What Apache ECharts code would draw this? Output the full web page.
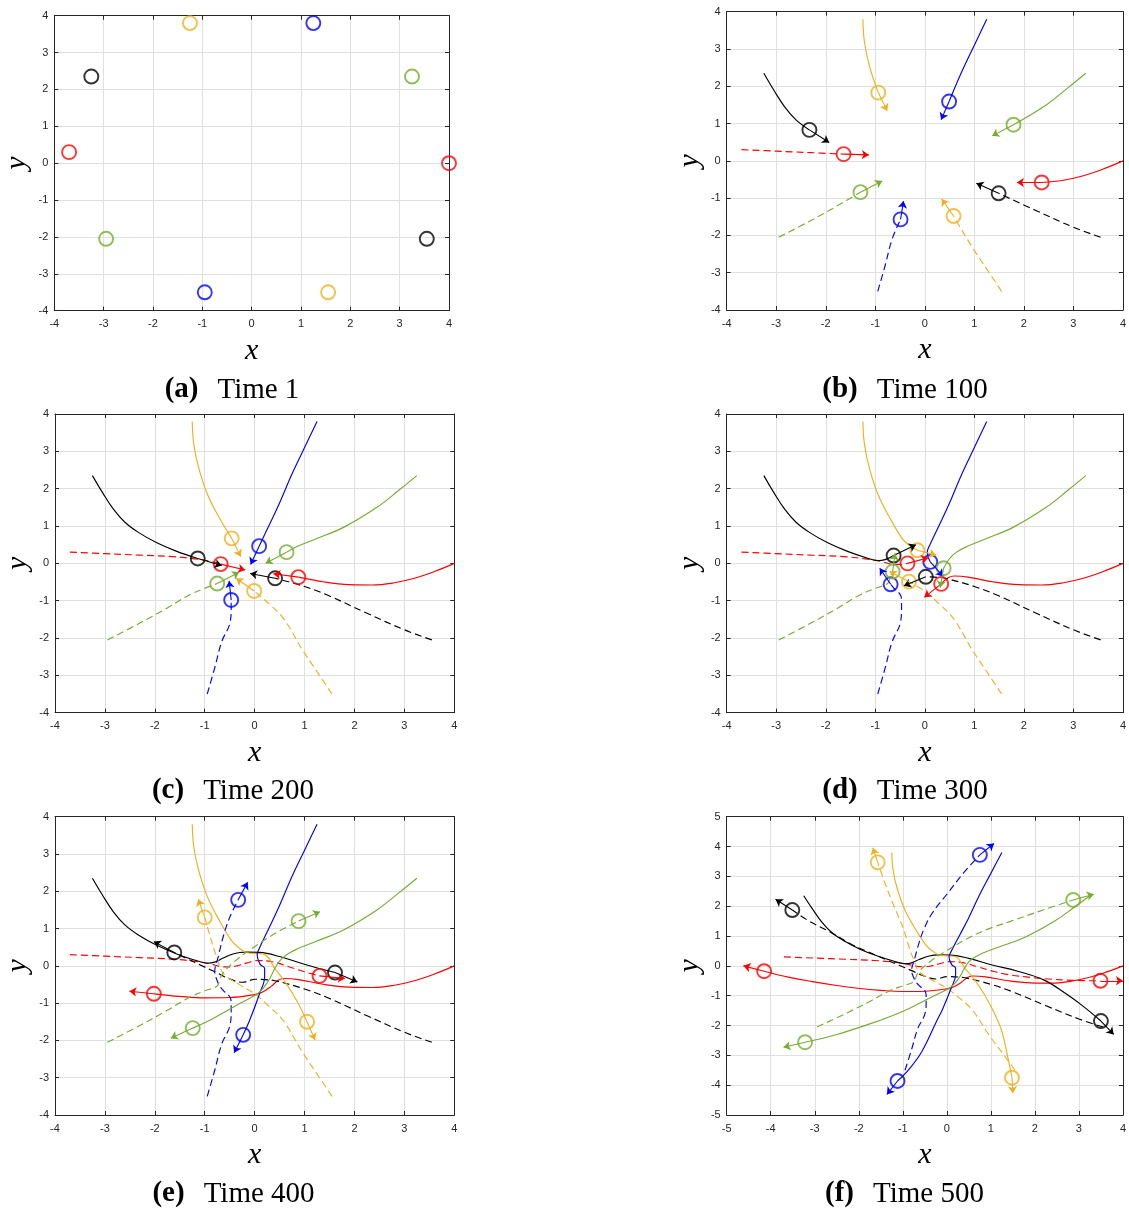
<!DOCTYPE html>
<html><head><meta charset="utf-8">
<script src="https://cdn.jsdelivr.net/npm/echarts@6/dist/echarts.min.js"></script>
<style>html,body{margin:0;padding:0;background:#fff}#c{width:1129px;height:1209px}</style>
</head><body><div id="c"></div><script>
// ---------- data ----------
const panelLetters = ['a','b','c','d','e','f'];
const panelTimes = [1,100,200,300,400,500];
const xMin = [-4,-4,-4,-4,-4,-5];
const xMax = [4,4,4,4,4,4];
const yMin = [-4,-4,-4,-4,-4,-5];
const yMax = [4,4,4,4,4,5];

const pathRedSolid = [[4.0,0.0],[3.6,-0.22],[3.2,-0.4],[2.8,-0.52],[2.36,-0.58],[1.9,-0.57],[1.4,-0.5],[0.875,-0.37],[0.6,-0.34],[0.48,-0.38],[0.33,-0.55],[0.15,-0.71],[0.0,-0.77],[-0.5,-0.85],[-1.0,-0.86],[-1.5,-0.82],[-2.02,-0.75],[-2.5,-0.66],[-3.05,-0.53],[-3.6,-0.38],[-4.15,-0.18]];
const idxRedSolid = [0,4,7,10,16,20];
const velRedSolid = [[-0.5,0.0],[-0.5,0.09],[-0.34,-0.36],[-0.49,0.07],[-0.47,0.18]];

const pathRedDashed = [[-3.7,0.3],[-3.0,0.26],[-2.3,0.22],[-1.64,0.18],[-1.2,0.12],[-0.9,0.06],[-0.68,-0.02],[-0.5,-0.03],[-0.35,0.0],[-0.15,0.08],[0.05,0.14],[0.35,0.11],[0.7,-0.03],[1.0,-0.16],[1.3,-0.27],[1.8,-0.37],[2.3,-0.44],[2.9,-0.49],[3.49,-0.5]];
const idxRedDashed = [0,3,6,8,14,18];
const velRedDashed = [[0.51,-0.02],[0.49,-0.16],[0.42,0.15],[0.51,-0.07],[0.51,0.0]];

const pathBlackSolid = [[-3.25,2.35],[-3.05,1.9],[-2.83,1.45],[-2.6,1.1],[-2.33,0.83],[-1.96,0.55],[-1.56,0.32],[-1.14,0.13],[-0.95,0.07],[-0.8,0.1],[-0.63,0.21],[-0.4,0.33],[-0.2,0.37],[0.1,0.36],[0.5,0.25],[1.03,0.03],[1.61,-0.18],[2.2,-0.47],[2.7,-0.93],[3.1,-1.36],[3.5,-1.85]];
const idxBlackSolid = [0,4,7,10,16,20];
const velBlackSolid = [[0.4,-0.34],[0.48,-0.19],[0.45,0.29],[0.45,-0.25],[0.29,-0.45]];

const pathBlackDashed = [[3.55,-2.05],[3.0,-1.78],[2.24,-1.33],[1.49,-0.87],[1.0,-0.62],[0.41,-0.4],[0.2,-0.37],[0.02,-0.36],[-0.25,-0.44],[-0.5,-0.35],[-0.8,-0.16],[-1.1,0.03],[-1.37,0.2],[-1.61,0.36],[-2.15,0.71],[-2.67,1.15],[-3.15,1.52],[-3.51,1.87]];
const idxBlackDashed = [0,3,5,7,13,17];
const velBlackDashed = [[-0.45,0.27],[-0.5,0.13],[-0.44,-0.24],[-0.41,0.29],[-0.38,0.36]];

const pathOrangeSolid = [[-1.25,3.8],[-1.22,3.2],[-1.12,2.55],[-0.94,1.83],[-0.7,1.2],[-0.46,0.67],[-0.33,0.5],[-0.15,0.35],[0.17,0.32],[0.43,-0.12],[0.63,-0.47],[0.85,-0.95],[1.05,-1.5],[1.25,-2.2],[1.39,-3.1],[1.48,-3.75]];
const idxOrangeSolid = [0,3,5,7,12,15];
const velOrangeSolid = [[0.18,-0.49],[0.18,-0.49],[0.38,-0.13],[0.16,-0.49],[0.02,-0.52]];

const pathOrangeDashed = [[1.55,-3.5],[1.3,-3.0],[0.95,-2.3],[0.58,-1.48],[0.3,-1.1],[-0.01,-0.74],[-0.32,-0.49],[-0.63,-0.2],[-0.75,0.2],[-0.85,0.6],[-1.0,1.3],[-1.2,2.0],[-1.4,2.75],[-1.57,3.47]];
const idxOrangeDashed = [0,3,5,6,10,13];
const velOrangeDashed = [[-0.24,0.46],[-0.36,0.34],[-0.39,0.27],[-0.13,0.49],[-0.11,0.49]];

const pathBlueSolid = [[1.25,3.8],[1.0,3.1],[0.75,2.4],[0.49,1.59],[0.3,1.05],[0.09,0.46],[0.05,0.3],[0.11,0.04],[0.2,-0.07],[0.2,-0.29],[0.1,-0.74],[-0.1,-1.46],[-0.23,-1.85],[-0.57,-2.88],[-0.85,-3.45],[-1.12,-3.86]];
const idxBlueSolid = [0,3,5,7,12,15];
const velBlueSolid = [[-0.16,-0.49],[-0.17,-0.49],[0.26,-0.39],[-0.18,-0.48],[-0.24,-0.45]];

const pathBlueDashed = [[-0.95,-3.5],[-0.8,-2.8],[-0.66,-2.1],[-0.49,-1.57],[-0.47,-1.2],[-0.47,-0.98],[-0.5,-0.83],[-0.6,-0.7],[-0.69,-0.56],[-0.75,-0.4],[-0.8,-0.16],[-0.73,0.24],[-0.63,0.78],[-0.5,1.3],[-0.33,1.77],[0.0,2.4],[0.4,3.15],[0.75,3.72]];
const idxBlueDashed = [0,3,5,8,14,17];
const velBlueDashed = [[0.06,0.49],[-0.04,0.51],[-0.22,0.43],[0.19,0.47],[0.32,0.38]];

const pathGreenSolid = [[3.25,2.35],[2.9,1.97],[2.45,1.5],[1.79,0.97],[1.2,0.64],[0.85,0.45],[0.64,0.3],[0.5,0.13],[0.38,-0.13],[0.3,-0.35],[0.1,-0.7],[-0.3,-1.01],[-0.83,-1.41],[-1.24,-1.67],[-1.8,-1.97],[-2.5,-2.3],[-3.22,-2.56]];
const idxGreenSolid = [0,3,6,8,13,16];
const velGreenSolid = [[-0.43,-0.3],[-0.42,-0.3],[-0.07,-0.52],[-0.44,-0.27],[-0.49,-0.17]];

const pathGreenDashed = [[-2.95,-2.05],[-2.3,-1.6],[-1.76,-1.2],[-1.3,-0.84],[-1.0,-0.67],[-0.75,-0.54],[-0.7,-0.38],[-0.65,-0.22],[-0.4,0.12],[-0.06,0.46],[0.45,0.9],[0.88,1.2],[1.46,1.5],[2.2,1.88],[2.87,2.21]];
const idxGreenDashed = [0,3,5,7,11,14];
const velGreenDashed = [[0.44,0.3],[0.44,0.3],[0.05,0.49],[0.43,0.25],[0.47,0.19]];

// ---------- styles / layout ----------
const RED='#FF0000', BLACK='#000000', ORANGE='#EDB120', BLUE='#0000FF', GREEN='#77AC30';
const agents = [
  {path:pathRedSolid, idx:idxRedSolid, vel:velRedSolid, color:RED, dashed:false},
  {path:pathRedDashed, idx:idxRedDashed, vel:velRedDashed, color:RED, dashed:true},
  {path:pathBlackSolid, idx:idxBlackSolid, vel:velBlackSolid, color:BLACK, dashed:false},
  {path:pathBlackDashed, idx:idxBlackDashed, vel:velBlackDashed, color:BLACK, dashed:true},
  {path:pathOrangeSolid, idx:idxOrangeSolid, vel:velOrangeSolid, color:ORANGE, dashed:false},
  {path:pathOrangeDashed, idx:idxOrangeDashed, vel:velOrangeDashed, color:ORANGE, dashed:true},
  {path:pathBlueSolid, idx:idxBlueSolid, vel:velBlueSolid, color:BLUE, dashed:false},
  {path:pathBlueDashed, idx:idxBlueDashed, vel:velBlueDashed, color:BLUE, dashed:true},
  {path:pathGreenSolid, idx:idxGreenSolid, vel:velGreenSolid, color:GREEN, dashed:false},
  {path:pathGreenDashed, idx:idxGreenDashed, vel:velGreenDashed, color:GREEN, dashed:true}
];
const gridBox = [
  [54.3, 15.7, 394.7, 295],
  [726.7, 11.7, 399.3, 298.3],
  [55, 414, 399.3, 298.7],
  [726.7, 414, 399.3, 298.7],
  [55, 816.7, 399.3, 298.3],
  [726.7, 816.7, 399.3, 298.3]
];
const capPos = [[232,390],[905,390],[233,791],[905,791],[233.5,1194],[904.5,1194]];

const AX='#262626';
const grids=[], xAxes=[], yAxes=[], series=[], graphics=[];
for (let p=0;p<6;p++){
  const g=gridBox[p];
  grids.push({left:g[0], top:g[1], width:g[2], height:g[3], containLabel:false});
  const common = (min,max)=>({type:'value', min:min, max:max, interval:1, gridIndex:p,
    axisLine:{show:true, onZero:false, lineStyle:{color:AX, width:1}},
    axisTick:{show:true, inside:true, length:4, lineStyle:{color:AX, width:1}}});
  xAxes.push(Object.assign(common(xMin[p],xMax[p]),{position:'bottom',
    axisLabel:{show:true, margin:8, color:AX, fontSize:11, fontFamily:'Liberation Sans, Arial, sans-serif', showMinLabel:true, showMaxLabel:true},
    splitLine:{show:true, lineStyle:{color:'#e0e0e0', width:1}},
    name:'x', nameLocation:'middle', nameGap:40,
    nameTextStyle:{fontFamily:'Liberation Serif, DejaVu Serif, serif', fontStyle:'italic', fontSize:30, color:'#000', verticalAlign:'middle'}}));
  xAxes.push(Object.assign(common(xMin[p],xMax[p]),{position:'top', axisLabel:{show:false}, splitLine:{show:false}}));
  yAxes.push(Object.assign(common(yMin[p],yMax[p]),{position:'left',
    axisLabel:{show:true, margin:6, color:AX, fontSize:11, fontFamily:'Liberation Sans, Arial, sans-serif', showMinLabel:true, showMaxLabel:true},
    splitLine:{show:true, lineStyle:{color:'#e0e0e0', width:1}},
    name:'y', nameLocation:'middle', nameGap:37,
    nameTextStyle:{fontFamily:'Liberation Serif, DejaVu Serif, serif', fontStyle:'italic', fontSize:30, color:'#000', verticalAlign:'middle'}}));
  yAxes.push(Object.assign(common(yMin[p],yMax[p]),{position:'right', axisLabel:{show:false}, splitLine:{show:false}}));

  const xi=2*p, yi=2*p;
  agents.forEach(a=>{
    const k=a.idx[p];
    const pos=a.path[k];
    if (p>0){
      series.push({type:'line', xAxisIndex:xi, yAxisIndex:yi, data:a.path.slice(0,k+1),
        showSymbol:false, symbol:'none', smooth:0.4, silent:true, z:2,
        lineStyle:{color:a.color, width:1.15, type:a.dashed?[7,4]:'solid'}});
    }
    series.push({type:'scatter', xAxisIndex:xi, yAxisIndex:yi, data:[pos], symbol:'circle', symbolSize:14, silent:true, z:3,
      itemStyle:{color:'rgba(255,255,255,0)', borderColor:a.color, borderWidth:1.9}});
    if (p>0){
      const v=a.vel[p-1];
      series.push({type:'lines', coordinateSystem:'cartesian2d', xAxisIndex:xi, yAxisIndex:yi, silent:true, z:4,
        symbol:['none','arrow'], symbolSize:7,
        lineStyle:{color:a.color, width:1.1, opacity:1, curveness:0},
        data:[{coords:[pos,[pos[0]+v[0], pos[1]+v[1]]]}]});
    }
  });
  graphics.push({type:'text', x:capPos[p][0], y:capPos[p][1],
    style:{text:'{b|('+panelLetters[p]+')}{n|Time '+panelTimes[p]+'}', align:'center', verticalAlign:'middle',
      rich:{b:{fontFamily:'Liberation Serif, DejaVu Serif, serif', fontWeight:'bold', fontSize:29, fill:'#000', padding:[0,19,0,0]},
            n:{fontFamily:'Liberation Serif, DejaVu Serif, serif', fontSize:29, fill:'#000'}}}});
}

const chart = echarts.init(document.getElementById('c'), null, {renderer:'canvas'});
chart.setOption({animation:false, backgroundColor:'#fff', grid:grids, xAxis:xAxes, yAxis:yAxes, series:series, graphic:graphics});
</script></body></html>
